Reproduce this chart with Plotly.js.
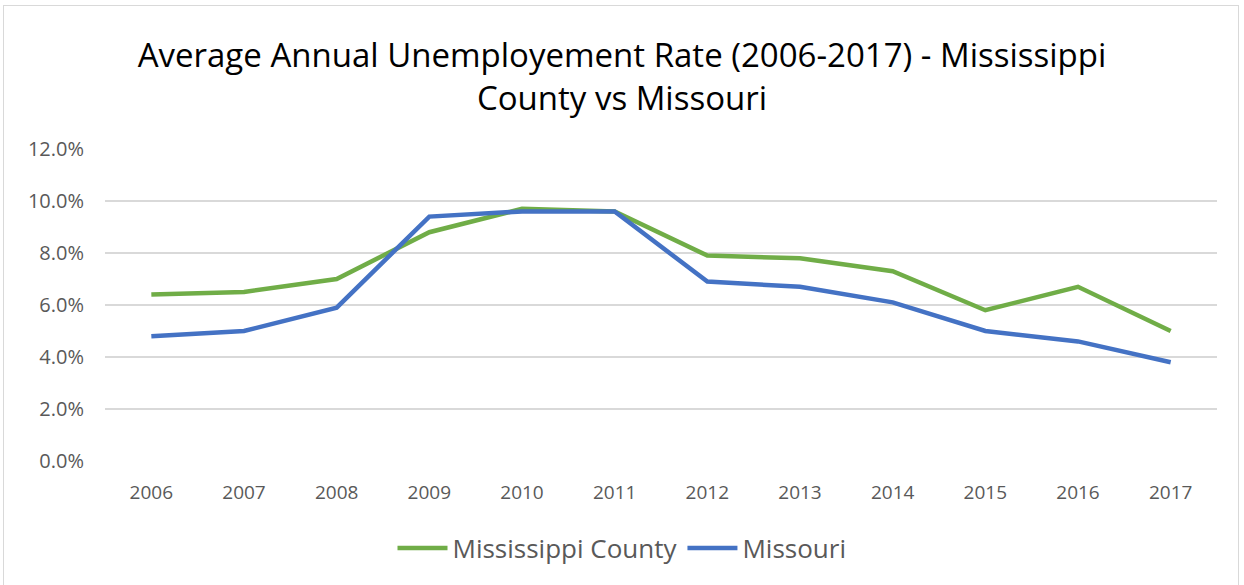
<!DOCTYPE html>
<html>
<head>
<meta charset="utf-8">
<script src="https://cdn.plot.ly/plotly-3.0.1.min.js"></script>
<style>
html,body{margin:0;padding:0;background:#fff;}
#wrap{position:absolute;left:3px;top:5px;width:1236px;height:590px;border:1px solid #d9d9d9;box-sizing:border-box;}
#chart{position:absolute;left:0;top:0;width:1244px;height:585px;}
</style>
</head>
<body>
<div id="wrap"></div>
<div id="chart"></div>
<script>
var years = ['2006','2007','2008','2009','2010','2011','2012','2013','2014','2015','2016','2017'];
var mississippiCounty = [6.4, 6.5, 7.0, 8.8, 9.7, 9.6, 7.9, 7.8, 7.3, 5.8, 6.7, 5.0];
var missouri = [4.8, 5.0, 5.9, 9.4, 9.6, 9.6, 6.9, 6.7, 6.1, 5.0, 4.6, 3.8];
var yTicks = [0, 2, 4, 6, 8, 10, 12];
var yTickLabels = ['0.0%', '2.0%', '4.0%', '6.0%', '8.0%', '10.0%', '12.0%'];

var font = 'Open Sans, Noto Sans, Liberation Sans, sans-serif';

var traces = [
  {x: years, y: mississippiCounty, type: 'scatter', mode: 'lines', name: 'Mississippi County',
   line: {color: '#70ad47', width: 4.5}},
  {x: years, y: missouri, type: 'scatter', mode: 'lines', name: 'Missouri',
   line: {color: '#4472c4', width: 4.5}}
];

var layout = {
  width: 1244, height: 585,
  margin: {l: 105, r: 27, t: 149, b: 124},
  paper_bgcolor: 'rgba(0,0,0,0)', plot_bgcolor: 'rgba(0,0,0,0)',
  font: {family: font, color: '#595959'},
  title: {text: 'Average Annual Unemployement Rate (2006-2017) - Mississippi<br>County vs Missouri',
          font: {family: font, size: 33, color: '#000'},
          x: 0.5, xanchor: 'center', y: 1 - 67/585, yanchor: 'middle', yref: 'container'},
  xaxis: {type: 'category', range: [-0.5, 11.5], showgrid: false, zeroline: false,
          showline: false, ticks: '', tickfont: {size: 19, color: '#595959'}, ticklabelstandoff: 18},
  yaxis: {range: [0, 12], tickvals: yTicks, ticktext: yTickLabels, showgrid: true,
          gridcolor: '#d9d9d9', gridwidth: 1.3, zeroline: false, showline: false, ticks: '',
          tickfont: {size: 20, color: '#595959'}, ticklabelstandoff: 20},
  showlegend: true,
  legend: {orientation: 'h', x: 0.5, xanchor: 'center', xref: 'container', y: 1 - 548/585, yanchor: 'middle', yref: 'container',
           font: {size: 26, color: '#595959'}, itemwidth: 50, traceorder: 'normal'}
};

Plotly.newPlot('chart', traces, layout, {displayModeBar: false, staticPlot: true});
</script>
</body>
</html>
